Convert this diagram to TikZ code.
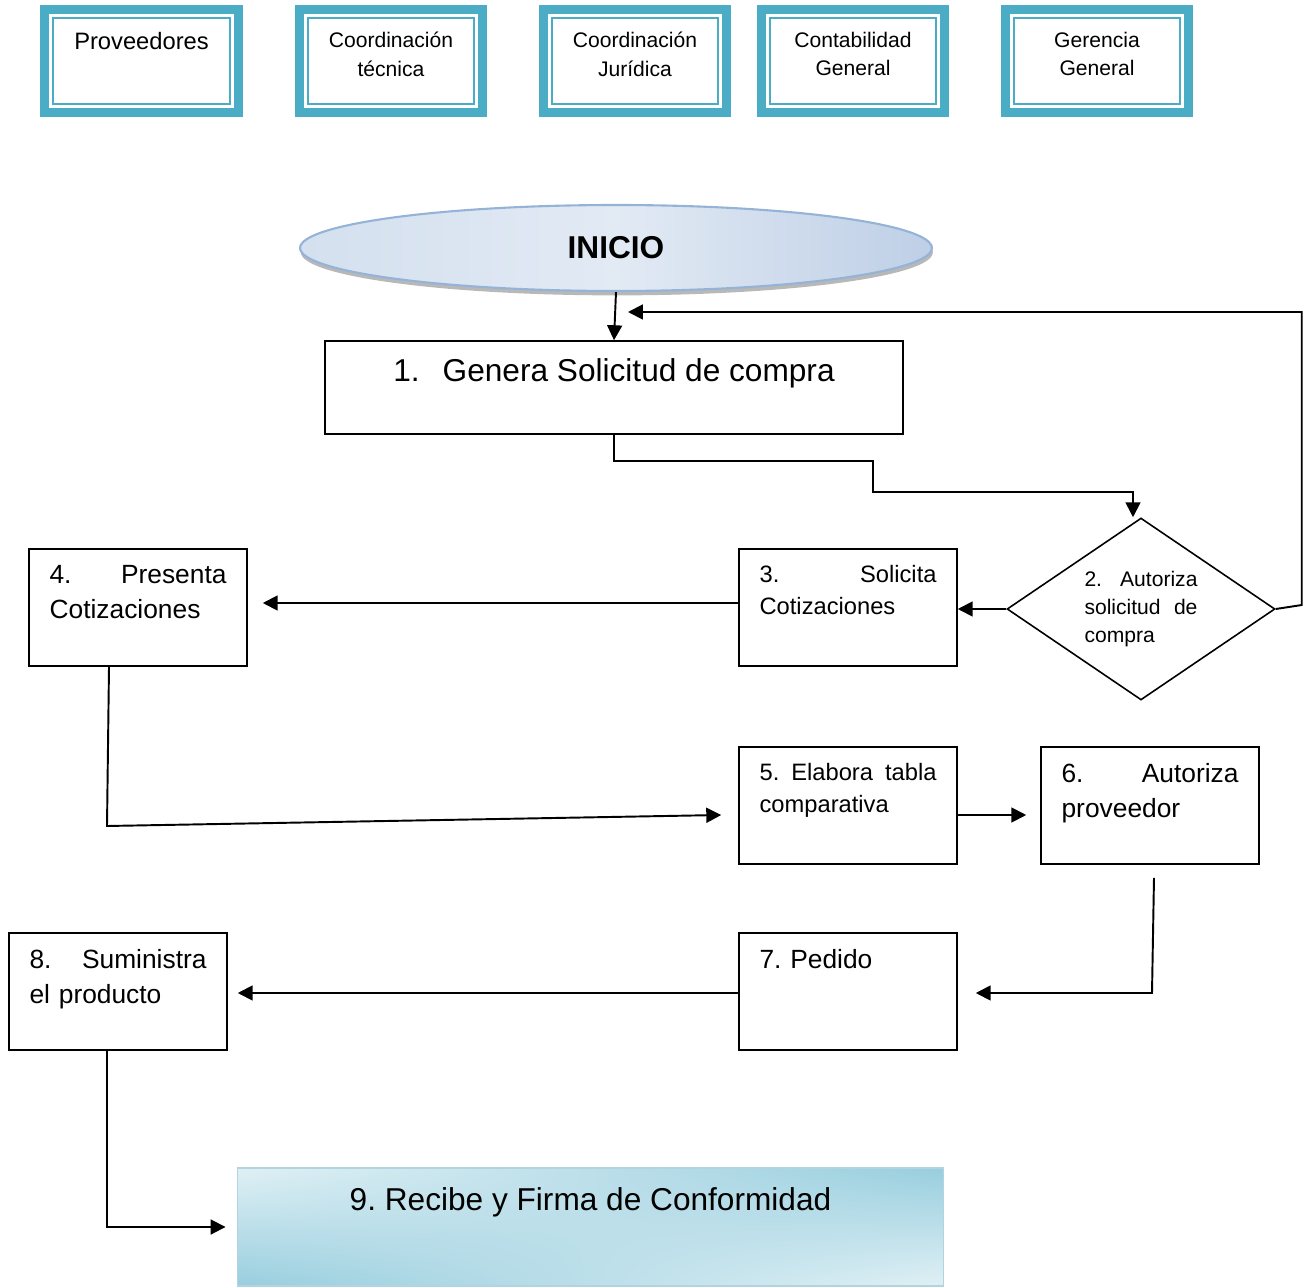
\documentclass[tikz,border=0pt]{standalone}
\usepackage{fontspec}
\setmainfont{Liberation Sans}
\usepackage{tikz}
\usetikzlibrary{shapes.geometric, arrows.meta, positioning, calc, shadows, shadings}
\definecolor{hdrteal}{RGB}{75,172,198}
\definecolor{ellline}{RGB}{149,179,215}
\definecolor{ellleft}{RGB}{212,224,239}
\definecolor{ellmid}{RGB}{226,234,244}
\definecolor{ellright}{RGB}{190,207,230}
\definecolor{finlight}{RGB}{224,240,245}
\definecolor{findark}{RGB}{152,206,222}
\definecolor{finline}{RGB}{178,212,225}
\tikzset{
  hdrbox/.style={rectangle, draw=hdrteal, fill=white, line width=5.1pt,
    minimum width=3.66cm, minimum height=2.06cm, inner sep=0pt,
    path picture={\draw[hdrteal, line width=0.9pt]
      ([shift={(0.165cm,-0.165cm)}]path picture bounding box.north west) rectangle
      ([shift={(-0.165cm,0.165cm)}]path picture bounding box.south east);}},
  hdrtxt/.style={anchor=north, yshift=-0.54cm, inner sep=0pt, align=center,
    font=\fontsize{12}{16}\selectfont},
  stepbox/.style={rectangle, draw, line width=0.9pt, minimum width=4.36cm,
    minimum height=2.34cm, inner sep=0pt},
  steptxt/.style={anchor=north west, xshift=0.42cm, yshift=-0.34cm, inner sep=0pt,
    text width=3.54cm, align=left, font=\fontsize{15}{20}\selectfont},
  smalltxt/.style={steptxt, font=\fontsize{13.5}{18}\selectfont},
  decision/.style={diamond, aspect=1.47, draw, line width=0.9pt, minimum width=5.36cm,
    minimum height=3.64cm, inner sep=0pt, text width=2.26cm, align=left,
    font=\fontsize{12}{16}\selectfont},
  arrow/.style={-{Triangle[length=8.5pt,width=8.5pt]}, line width=1.1pt},
  line/.style={line width=1.1pt}
}

\begin{document}
\begin{tikzpicture}[x=0.02cm, y=-0.02cm]
  \useasboundingbox (0,0) rectangle (1309,1287);

  % Header boxes
  \node[hdrbox, minimum width=3.88cm, label={[hdrtxt, font=\fontsize{13.5}{18}\selectfont]north:Proveedores}] (prov) at (141.5,61) {};
  \node[hdrbox, label={[hdrtxt]north:Coordinación\\técnica}] (ctec) at (391,61) {};
  \node[hdrbox, label={[hdrtxt]north:Coordinación\\Jurídica}] (cjur) at (635,61) {};
  \node[hdrbox, label={[hdrtxt]north:Contabilidad\\General}] (cont) at (853,61) {};
  \node[hdrbox, label={[hdrtxt]north:Gerencia\\General}] (ger) at (1097,61) {};

  % Start
  \node[ellipse, draw=ellline, line width=1.2pt, left color=ellleft, right color=ellright,
    middle color=ellmid, minimum width=12.64cm, minimum height=1.72cm,
    drop shadow={shadow xshift=0.5pt, shadow yshift=-2.5pt, fill=gray!70, opacity=0.8},
    font=\fontsize{18}{22}\selectfont\bfseries] (inicio) at (616,248) {INICIO};

  % Process steps
  \node[rectangle, draw, line width=0.9pt, minimum width=11.56cm, minimum height=1.86cm,
    label={[anchor=north, yshift=-0.36cm, inner sep=0pt, font=\fontsize{18}{22}\selectfont]north:1.\hspace{0.46cm}Genera Solicitud de compra}] (b1) at (614,387.5) {};
  \node[decision] (d2) at (1141,609) {2.\hfill Autoriza\\solicitud\hfill de\\compra};
  \node[stepbox, label={[smalltxt]north west:{3.\hfill Solicita\\Cotizaciones}}] (b3) at (848,607.5) {};
  \node[stepbox, label={[steptxt]north west:{4.\hfill Presenta\\Cotizaciones}}] (b4) at (138,607.5) {};
  \node[stepbox, label={[smalltxt]north west:{5.\hfill Elabora\hfill tabla\\comparativa}}] (b5) at (848,805.5) {};
  \node[stepbox, label={[steptxt]north west:{6.\hfill Autoriza\\proveedor}}] (b6) at (1150,805.5) {};
  \node[stepbox, label={[steptxt]north west:{7.\ Pedido}}] (b7) at (848,991.5) {};
  \node[stepbox, label={[steptxt]north west:{8.\hfill Suministra\\el producto}}] (b8) at (118,991.5) {};
  \node[rectangle, draw=finline, line width=0.6pt, upper left=finlight, upper right=findark,
    lower left=findark, lower right=finlight, minimum width=14.14cm, minimum height=2.36cm,
    label={[anchor=north, yshift=-0.39cm, inner sep=0pt, font=\fontsize{18}{22}\selectfont]north:9.\ Recibe y Firma de Conformidad}] (b9) at (590.5,1227) {};

  % Connectors
  \coordinate (fb) at (628,312);
  \draw[arrow] (inicio.south) -- (b1.north);
  \draw[arrow] (d2.east) -- ++(26,-4) |- (fb);
  \draw[arrow] (b1.south) -- ++(0,26) -| (873,492) -| ([xshift=-0.16cm]d2.north);
  \draw[arrow] (d2.west) -- (d2.west -| b3.east);
  \draw[arrow] ([yshift=0.09cm]b3.west) -- ([xshift=0.3cm,yshift=0.09cm]b4.east);
  \draw[arrow] ([xshift=-0.58cm]b4.south) -- (107,826) -- ([xshift=-0.34cm,yshift=-0.19cm]b5.west);
  \draw[arrow] ([yshift=-0.19cm]b5.east) -- ([xshift=-0.28cm,yshift=-0.19cm]b6.west);
  \draw[arrow] ([xshift=0.08cm,yshift=-0.26cm]b6.south) -- (1152,993) -- ([xshift=0.36cm,yshift=-0.03cm]b7.east);
  \draw[arrow] ([yshift=-0.03cm]b7.west) -- ([xshift=0.2cm,yshift=-0.03cm]b8.east);
  \draw[arrow] ([xshift=-0.22cm]b8.south) |- ([xshift=-0.22cm]b9.west);
\end{tikzpicture}
\end{document}
